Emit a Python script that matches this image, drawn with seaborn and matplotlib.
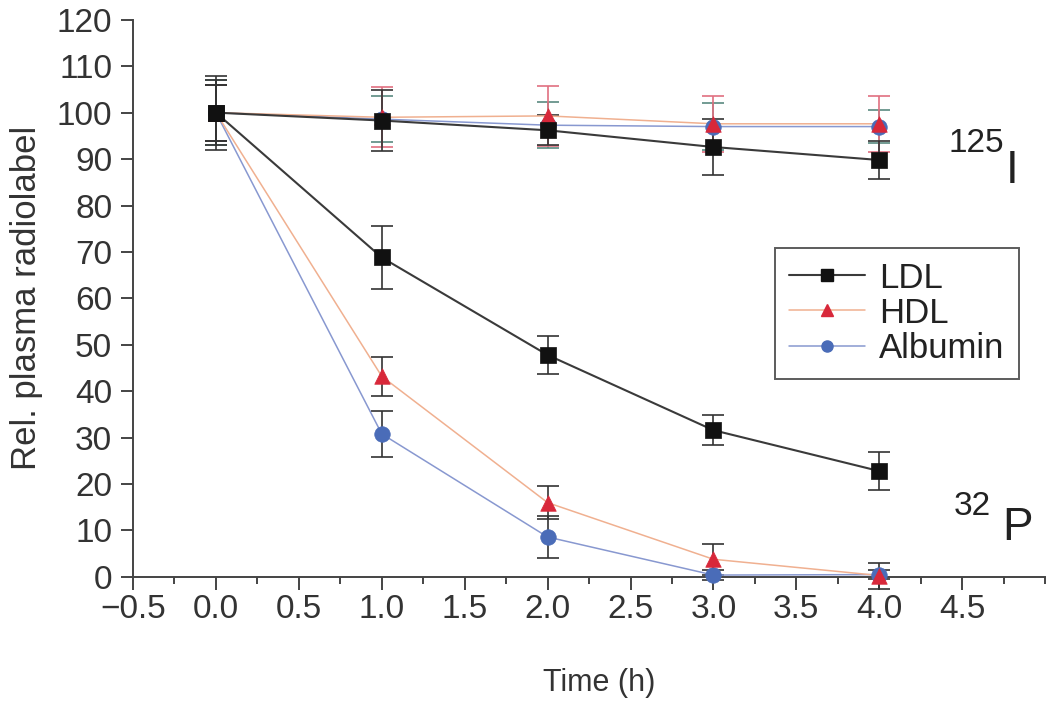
import numpy as np
import pandas as pd
import matplotlib
matplotlib.use("Agg")
import matplotlib.pyplot as plt
import seaborn as sns
from matplotlib.lines import Line2D
from matplotlib.ticker import MultipleLocator

time_h = [0.0, 1.0, 2.0, 3.0, 4.0]

# 125I label (upper curves)
ldl_i = [100, 98.3, 96.2, 92.6, 89.8]
ldl_i_err = [8, 6.5, 3.2, 6.0, 4.0]
hdl_i = [100, 99.0, 99.3, 97.6, 97.6]
hdl_i_err = [6, 6.5, 6.5, 6.0, 6.0]
alb_i = [100, 98.6, 97.3, 97.0, 97.0]
alb_i_err = [7, 5.0, 5.0, 5.0, 3.5]

# 32P label (lower curves)
ldl_p = [100, 68.8, 47.8, 31.6, 22.8]
ldl_p_err = [6, 6.8, 4.0, 3.2, 4.0]
hdl_p = [100, 43.2, 16.0, 3.8, 0.3]
hdl_p_err = [6, 4.2, 3.5, 3.3, 2.8]
alb_p = [100, 30.8, 8.6, 0.4, 0.5]
alb_p_err = [7, 5.0, 4.6, 1.0, 1.0]

series = ["LDL", "HDL", "Albumin"]
markers = {"LDL": "s", "HDL": "^", "Albumin": "o"}
line_col = {"LDL": "#3a3a3a", "HDL": "#f0b090", "Albumin": "#8898d0"}
line_w = {"LDL": 1.5, "HDL": 1.1, "Albumin": 1.1}
mark_col = {"LDL": "#111111", "HDL": "#d8283a", "Albumin": "#4a6cb8"}
err_col_i = {"LDL": "#333333", "HDL": "#e07080", "Albumin": "#5a8a80"}

rows = []
for lab, vals in [("125I", {"LDL": (ldl_i, ldl_i_err), "HDL": (hdl_i, hdl_i_err), "Albumin": (alb_i, alb_i_err)}),
                  ("32P", {"LDL": (ldl_p, ldl_p_err), "HDL": (hdl_p, hdl_p_err), "Albumin": (alb_p, alb_p_err)})]:
    for s, (y, e) in vals.items():
        for t, yy, ee in zip(time_h, y, e):
            rows.append({"label": lab, "series": s, "time": t, "value": yy, "err": ee})
df = pd.DataFrame(rows)

sns.set_style("ticks")
plt.rcParams["font.family"] = ["Liberation Sans", "DejaVu Sans"]

fig = plt.figure(figsize=(10.5, 7.07), dpi=100)
ax = fig.add_axes([0.1267, 0.184, 0.8686, 0.788])

# draw back to front: albumin, HDL, LDL
for s in ["Albumin", "HDL", "LDL"]:
    for lab in ["125I", "32P"]:
        sub = df[(df["series"] == s) & (df["label"] == lab)]
        ecol = err_col_i[s] if lab == "125I" else "#333333"
        ax.errorbar(sub["time"], sub["value"], yerr=sub["err"], fmt="none",
                    ecolor=ecol, elinewidth=1.2, capsize=8, capthick=1.2,
                    zorder=2, clip_on=False)
        sns.lineplot(data=sub, x="time", y="value", color=line_col[s],
                     linewidth=line_w[s], ax=ax, legend=False, zorder=3)
        sns.scatterplot(data=sub, x="time", y="value", marker=markers[s],
                        color=mark_col[s], s=125, edgecolor=mark_col[s],
                        linewidth=0.5, ax=ax, legend=False, zorder=4,
                        clip_on=False)

ax.set_xlim(-0.5, 5.0)
ax.set_ylim(0, 120)
ax.set_xticks(np.arange(-0.5, 4.6, 0.5))
ax.set_xticklabels(["\u22120.5"] + [f"{v:.1f}" for v in np.arange(0, 4.6, 0.5)])
ax.xaxis.set_minor_locator(MultipleLocator(0.25))
ax.set_yticks(np.arange(0, 121, 10))
ax.tick_params(axis="both", which="major", labelsize=24, length=9, width=1.4,
               colors="#444444", labelcolor="#333333")
ax.tick_params(axis="y", pad=6)
ax.tick_params(axis="x", which="minor", length=5, width=1.4, colors="#444444")
for sp in ["left", "bottom"]:
    ax.spines[sp].set_linewidth(1.4)
    ax.spines[sp].set_color("#444444")
sns.despine(ax=ax)

ax.set_xlabel("Time (h)", fontsize=22, color="#333333")
ax.xaxis.set_label_coords(0.511, -0.163)
ax.set_ylabel("Rel. plasma radiolabel", fontsize=25, color="#333333", labelpad=10)

ax.text(4.42, 91.5, "125", fontsize=24, color="#222222", ha="left", va="baseline")
ax.text(4.76, 84.9, "I", fontsize=33, color="#222222", ha="left", va="baseline")
ax.text(4.45, 13.4, "32", fontsize=24, color="#222222", ha="left", va="baseline")
ax.text(4.74, 8.0, "P", fontsize=33, color="#222222", ha="left", va="baseline")

handles = [Line2D([0], [0], color=line_col[s], linewidth=line_w[s], marker=markers[s],
                  markersize=8, markerfacecolor=mark_col[s],
                  markeredgecolor=mark_col[s]) for s in series]
leg = ax.legend(handles, series, loc="upper left", bbox_to_anchor=(0.704, 0.591),
                fontsize=25, frameon=True, fancybox=False, edgecolor="#333333",
                handlelength=2.2, borderpad=0.4, labelspacing=0.06,
                handletextpad=0.4, borderaxespad=0)
leg.get_frame().set_linewidth(1.4)
for t in leg.get_texts():
    t.set_color("#222222")

fig.savefig("out.png", dpi=100)
